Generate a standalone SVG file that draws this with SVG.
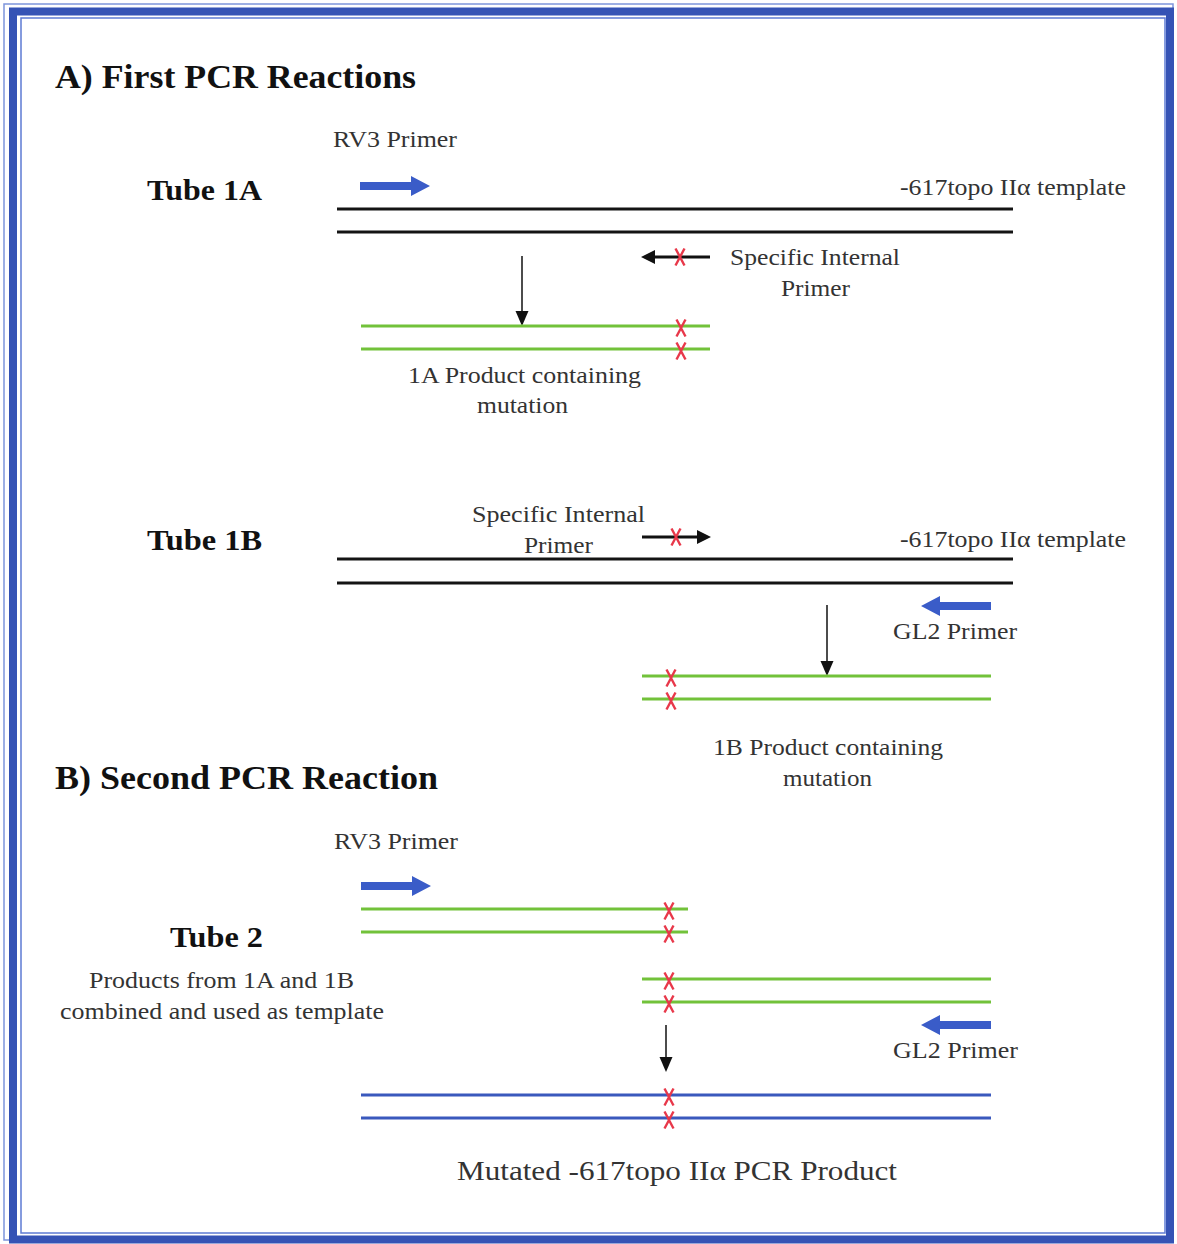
<svg xmlns="http://www.w3.org/2000/svg" width="1177" height="1244" viewBox="0 0 1177 1244">
<defs>
<style>
.t{font-family:"Liberation Serif","Times New Roman",Times,serif;fill:#333;font-size:24px}
.b{font-family:"Liberation Serif","Times New Roman",Times,serif;fill:#111;font-weight:bold}
.h{font-size:33px}
.tb{font-size:30px}
.blk{stroke:#141414;stroke-width:3;fill:none}
.grn{stroke:#72c23a;stroke-width:3.2;fill:none}
.blu{stroke:#3a59bd;stroke-width:3;fill:none}
.x{stroke:#e8384a;stroke-width:2.4;fill:none}
.thin{stroke:#111;stroke-width:1.5;fill:none}
.small{stroke:#111;stroke-width:2.8;fill:none}
</style>
<path id="mark" class="x" d="M-4.5,-8.5 L4.5,8.5 M4.5,-8.5 L-4.5,8.5"/>
<path id="bigR" fill="#3a5cc8" d="M0,-4 L51,-4 L51,-10 L70,0 L51,10 L51,4 L0,4 Z"/>
<path id="bigL" fill="#3a5cc8" d="M70,-4 L19,-4 L19,-10 L0,0 L19,10 L19,4 L70,4 Z"/>
<path id="down" fill="#111" d="M-6.5,-15 L6.5,-15 L0,0 Z"/>
</defs>
<rect x="0" y="0" width="1177" height="1244" fill="#fff"/>
<g id="frame">
<rect x="4" y="4" width="1169" height="1236" fill="none" stroke="#7d95dc" stroke-width="1.5"/>
<rect x="13" y="11.5" width="1157" height="1228" fill="none" stroke="#3553b5" stroke-width="8"/>
<rect x="21" y="18" width="1144" height="1215" fill="none" stroke="#5d7bd3" stroke-width="1.5"/>
</g>
<g id="titles">
<text class="b h" x="55" y="88" textLength="361" lengthAdjust="spacingAndGlyphs">A) First PCR Reactions</text>
<text class="b h" x="55" y="789" textLength="383" lengthAdjust="spacingAndGlyphs">B) Second PCR Reaction</text>
</g>
<g id="tube1A">
<text class="b tb" x="147" y="200" textLength="115" lengthAdjust="spacingAndGlyphs">Tube 1A</text>
<text class="t" x="333" y="147" textLength="124" lengthAdjust="spacingAndGlyphs">RV3 Primer</text>
<use href="#bigR" x="360" y="186"/>
<text class="t" x="900" y="195" textLength="226" lengthAdjust="spacingAndGlyphs">-617topo IIα template</text>
<line class="blk" x1="337" y1="209" x2="1013" y2="209"/>
<line class="blk" x1="337" y1="232" x2="1013" y2="232"/>
<line class="small" x1="710" y1="257" x2="652" y2="257"/>
<path fill="#111" d="M641,257 L655,250 L655,264 Z"/>
<use href="#mark" x="680" y="257"/>
<text class="t" x="730" y="265" textLength="170" lengthAdjust="spacingAndGlyphs">Specific Internal</text>
<text class="t" x="781" y="296" textLength="69" lengthAdjust="spacingAndGlyphs">Primer</text>
<line class="thin" x1="522" y1="256" x2="522" y2="312"/>
<use href="#down" x="522" y="326"/>
<line class="grn" x1="361" y1="326" x2="710" y2="326"/>
<line class="grn" x1="361" y1="349" x2="710" y2="349"/>
<use href="#mark" x="681" y="328"/>
<use href="#mark" x="681" y="351"/>
<text class="t" x="408" y="383" textLength="233" lengthAdjust="spacingAndGlyphs">1A Product containing</text>
<text class="t" x="477" y="413" textLength="91" lengthAdjust="spacingAndGlyphs">mutation</text>
</g>
<g id="tube1B">
<text class="b tb" x="147" y="550" textLength="115" lengthAdjust="spacingAndGlyphs">Tube 1B</text>
<text class="t" x="472" y="522" textLength="173" lengthAdjust="spacingAndGlyphs">Specific Internal</text>
<text class="t" x="524" y="553" textLength="69" lengthAdjust="spacingAndGlyphs">Primer</text>
<line class="small" x1="642" y1="537" x2="700" y2="537"/>
<path fill="#111" d="M711,537 L697,530 L697,544 Z"/>
<use href="#mark" x="676" y="537"/>
<text class="t" x="900" y="547" textLength="226" lengthAdjust="spacingAndGlyphs">-617topo IIα template</text>
<line class="blk" x1="337" y1="559" x2="1013" y2="559"/>
<line class="blk" x1="337" y1="583" x2="1013" y2="583"/>
<use href="#bigL" x="921" y="606"/>
<text class="t" x="893" y="639" textLength="124" lengthAdjust="spacingAndGlyphs">GL2 Primer</text>
<line class="thin" x1="827" y1="605" x2="827" y2="662"/>
<use href="#down" x="827" y="676"/>
<line class="grn" x1="642" y1="676" x2="991" y2="676"/>
<line class="grn" x1="642" y1="699" x2="991" y2="699"/>
<use href="#mark" x="671" y="678"/>
<use href="#mark" x="671" y="701"/>
<text class="t" x="713" y="755" textLength="230" lengthAdjust="spacingAndGlyphs">1B Product containing</text>
<text class="t" x="783" y="786" textLength="89" lengthAdjust="spacingAndGlyphs">mutation</text>
</g>
<g id="tube2">
<text class="t" x="334" y="849" textLength="124" lengthAdjust="spacingAndGlyphs">RV3 Primer</text>
<use href="#bigR" x="361" y="886"/>
<line class="grn" x1="361" y1="909" x2="688" y2="909"/>
<line class="grn" x1="361" y1="932" x2="688" y2="932"/>
<use href="#mark" x="669" y="911"/>
<use href="#mark" x="669" y="934"/>
<text class="b tb" x="170" y="947" textLength="93" lengthAdjust="spacingAndGlyphs">Tube 2</text>
<text class="t" x="89" y="988" textLength="265" lengthAdjust="spacingAndGlyphs">Products from 1A and 1B</text>
<text class="t" x="60" y="1019" textLength="324" lengthAdjust="spacingAndGlyphs">combined and used as template</text>
<line class="grn" x1="642" y1="979" x2="991" y2="979"/>
<line class="grn" x1="642" y1="1002" x2="991" y2="1002"/>
<use href="#mark" x="669" y="981"/>
<use href="#mark" x="669" y="1004"/>
<line class="thin" x1="666" y1="1025" x2="666" y2="1058"/>
<use href="#down" x="666" y="1072"/>
<use href="#bigL" x="921" y="1025"/>
<text class="t" x="893" y="1058" textLength="125" lengthAdjust="spacingAndGlyphs">GL2 Primer</text>
<line class="blu" x1="361" y1="1095" x2="991" y2="1095"/>
<line class="blu" x1="361" y1="1118" x2="991" y2="1118"/>
<use href="#mark" x="669" y="1097"/>
<use href="#mark" x="669" y="1120"/>
<text class="t" x="457" y="1180" style="font-size:27px" textLength="440" lengthAdjust="spacingAndGlyphs">Mutated -617topo IIα PCR Product</text>
</g>
</svg>
